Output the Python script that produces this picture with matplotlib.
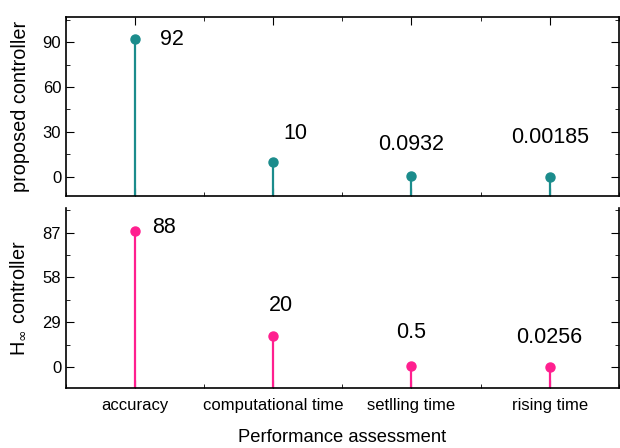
import matplotlib
matplotlib.use("Agg")
import matplotlib.pyplot as plt
from matplotlib.ticker import MultipleLocator, FixedLocator

# categories and values
metrics = ["accuracy", "computational time", "setlling time", "rising time"]
proposed = [92, 10, 0.0932, 0.00185]
proposed_txt = ["92", "10", "0.0932", "0.00185"]
hinf = [88, 20, 0.5, 0.0256]
hinf_txt = ["88", "20", "0.5", "0.0256"]

TEAL = "#1b8c8c"
PINK = "#ff1f8f"

plt.rcParams.update({
    "font.family": ["Liberation Sans", "DejaVu Sans"],
    "font.size": 12,
    "xtick.labelsize": 12, "ytick.labelsize": 12,
    "xtick.direction": "in", "ytick.direction": "in",
    "xtick.major.size": 6, "ytick.major.size": 6,
    "xtick.minor.size": 3, "ytick.minor.size": 3,
    "axes.linewidth": 1.2,
})

fig = plt.figure(figsize=(6.2, 4.48), dpi=100)
ax1 = fig.add_axes([0.1065, 0.5625, 0.8915, 0.3995])
ax2 = fig.add_axes([0.1065, 0.134, 0.8915, 0.4017])

xs = list(range(1, len(metrics) + 1))


def lollipop(ax, vals, labels, color, ylo, offsets):
    ax.vlines(xs, ylo, vals, color=color, lw=1.6, zorder=2)
    ax.plot(xs, vals, "o", ms=6.5, color=color, zorder=3)
    for x, v, t, (dx, dy, ha) in zip(xs, vals, labels, offsets):
        ax.annotate(t, (x, v), xytext=(dx, dy), textcoords="offset pixels",
                    ha=ha, va="center", fontsize=15.5)
    ax.set_xlim(0.5, 4.5)
    ax.xaxis.set_major_locator(FixedLocator(xs))
    ax.xaxis.set_minor_locator(MultipleLocator(0.5))


lollipop(ax1, proposed, proposed_txt, TEAL, -13,
         [(25, 0, "left"), (22, 28, "center"), (0, 32, "center"), (0, 39, "center")])
ax1.set_ylim(-13, 107)
ax1.yaxis.set_major_locator(FixedLocator([0, 30, 60, 90]))
ax1.yaxis.set_minor_locator(MultipleLocator(15))
ax1.tick_params(which="both", top=True, right=True, labelbottom=False)
ax1.set_ylabel("proposed controller", fontsize=14.3)
ax1.yaxis.set_label_coords(-0.066, 0.5)

lollipop(ax2, hinf, hinf_txt, PINK, -13.6,
         [(17, 4, "left"), (8, 31, "center"), (0, 34, "center"), (0, 29, "center")])
ax2.set_ylim(-13.6, 103)
ax2.yaxis.set_major_locator(FixedLocator([0, 29, 58, 87]))
ax2.yaxis.set_minor_locator(MultipleLocator(14.5))
ax2.spines["top"].set_visible(False)
ax2.tick_params(which="both", right=True)
ax2.set_xticklabels(metrics)
ax2.tick_params(axis="x", pad=7)
ax2.set_ylabel(r"H$_{\infty}$ controller", fontsize=14.3)
ax2.yaxis.set_label_coords(-0.070, 0.5)
ax2.set_xlabel("Performance assessment", fontsize=13.2, labelpad=12)

fig.savefig("out.png", dpi=100)
